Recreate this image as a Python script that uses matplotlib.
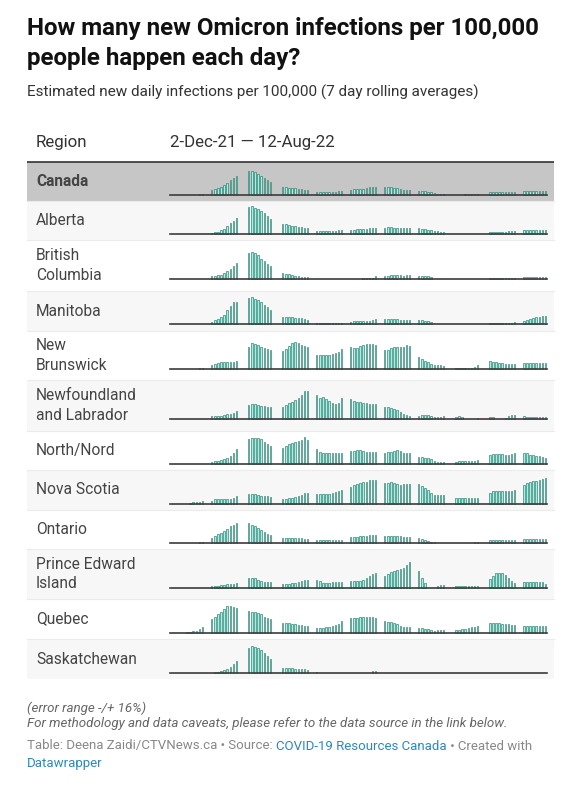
import matplotlib
matplotlib.use("Agg")
import matplotlib.pyplot as plt
import numpy as np
from matplotlib.patches import Rectangle

plt.rcParams['font.family'] = ['Roboto', 'DejaVu Sans']

# time slots at which each run of bars starts (gaps = missing data)
group_start = [2, 13, 25, 36, 47, 58, 69, 80, 91, 103, 114]
n_slots = 122

regions = ["Canada", "Alberta", "British\nColumbia", "Manitoba", "New\nBrunswick",
           "Newfoundland\nand Labrador", "North/Nord", "Nova Scotia", "Ontario",
           "Prince Edward\nIsland", "Quebec", "Saskatchewan"]

# estimated daily infections per 100,000 (relative bar heights)
canada = [[0, 0, 0, 0, 0, 0, 0, 3, 3], [16, 19, 22, 25, 30, 37, 44, 51, 58],
          [73, 73, 68, 63, 58, 51, 45, 38], [23, 23, 22, 21, 20, 18, 17, 15, 15],
          [10, 9, 9, 8, 8, 9, 10, 11, 12], [16, 17, 18, 19, 19, 21, 23, 23, 23],
          [23, 24, 23, 21, 20, 18, 16, 16, 16], [13, 12, 11, 10, 8, 6, 4, 4, 4],
          [0, 0, 0, 0, 3, 3, 3, 3, 3], [10, 10, 10, 10, 10, 10, 10, 10, 10],
          [13, 13, 13, 13, 13, 13, 13, 13]]
alberta = [[], [3, 5, 7, 11, 16, 23, 32, 40, 48], [81, 84, 79, 75, 69, 62, 53, 45],
           [30, 29, 27, 25, 23, 21, 20, 19, 18], [9, 9, 9, 9, 9, 10, 10, 11, 12],
           [12, 13, 14, 15, 15, 16, 17, 18, 18], [19, 20, 20, 19, 18, 18, 17, 18, 18],
           [17, 16, 14, 13, 11, 10, 8, 7, 6], [], [5, 5, 5, 5, 6, 7, 8, 9, 9],
           [12, 12, 12, 12, 12, 12, 12, 12]]
british_columbia = [[], [8, 9, 11, 13, 17, 23, 30, 38, 47], [77, 82, 77, 71, 61, 53, 46, 39],
                    [17, 15, 14, 12, 10, 8, 6, 5, 5], [], [0, 0, 0, 0, 4, 4, 4, 4, 8],
                    [8, 10, 12, 12, 12, 11, 10, 12, 12], [8, 8, 8, 8, 6], [],
                    [4, 4, 4, 4, 4, 4, 4, 4, 4], [5, 5, 5, 5, 5, 5, 5, 5]]
manitoba = [[], [7, 12, 17, 22, 29, 42, 54, 67, 67], [79, 82, 76, 72, 66, 59, 51, 43],
            [22, 22, 22, 21, 20, 20, 18, 16, 13], [5, 5, 5, 5, 5, 5, 5, 5, 5],
            [8, 10, 10, 10, 10, 10, 10, 13, 16], [16, 16, 16, 15, 15, 14, 14, 14, 14],
            [12, 12, 11, 10, 6], [], [5, 5, 5, 5, 5, 5, 5, 5, 8],
            [9, 13, 17, 20, 21, 23, 24, 25]]
new_brunswick = [[0, 0, 0, 0, 0, 0, 0, 3, 3], [11, 15, 18, 20, 20, 20, 20, 20, 25],
                 [65, 77, 74, 71, 67, 63, 59, 56], [53, 61, 70, 78, 80, 78, 72, 68, 67],
                 [42, 42, 42, 42, 43, 45, 48, 52, 59], [66, 63, 64, 69, 72, 74, 75, 76, 72],
                 [56, 56, 64, 67, 67, 67, 67, 71, 69], [35, 29, 25, 21, 16, 12, 11, 11, 8],
                 [0, 4, 4, 4, 4, 4, 4, 7, 11], [23, 21, 20, 19, 18, 16, 15, 15, 15],
                 [17, 17, 17, 17, 17, 17, 17, 17]]
newfoundland = [[], [8, 8, 9, 10, 11, 14, 15, 17, 23], [41, 44, 44, 42, 40, 39, 37, 37],
                [35, 42, 47, 52, 57, 64, 72, 83, 83], [72, 64, 65, 60, 54, 48, 45, 47, 62],
                [59, 53, 51, 50, 49, 48, 46, 46, 44], [35, 35, 34, 31, 27, 21, 16, 12, 9],
                [10, 11, 11, 11, 9, 6, 5, 5, 8], [0, 5, 8, 5, 0, 0, 0, 0, 3],
                [5, 5, 0, 0, 0, 3, 8, 11, 11], [8, 7, 5, 5, 5, 5, 5, 5]]
north = [[], [6, 8, 10, 12, 15, 18, 24, 32, 46], [76, 79, 79, 79, 75, 67, 60, 54],
         [48, 53, 60, 64, 66, 68, 71, 80, 71], [44, 37, 34, 32, 32, 32, 32, 32, 32],
         [38, 40, 43, 42, 40, 37, 35, 37, 35], [32, 35, 37, 39, 42, 38, 34, 32, 32],
         [20, 20, 18, 17, 14, 10, 6, 5, 7], [0, 6, 10, 10, 10, 10, 10, 10, 13],
         [28, 29, 29, 29, 29, 28, 26, 29, 32], [34, 32, 28, 27, 25, 25, 22, 18]]
nova_scotia = [[0, 0, 0, 0, 3, 4, 5, 6, 7], [8, 13, 15, 15, 15, 15, 15, 18, 22],
               [29, 30, 28, 27, 24, 22, 22, 19], [15, 15, 16, 18, 19, 22, 27, 31, 31],
               [30, 30, 30, 30, 30, 31, 34, 37, 40], [50, 55, 60, 62, 64, 66, 70, 72, 70],
               [63, 63, 66, 63, 59, 56, 59, 60, 60], [58, 53, 48, 42, 33, 25, 25, 25, 25],
               [0, 18, 18, 18, 18, 18, 18, 18, 18], [33, 37, 37, 37, 37, 37, 37, 37, 42],
               [55, 62, 65, 67, 68, 70, 75, 78]]
ontario = [[0, 0, 0, 0, 0, 0, 0, 4, 4], [16, 22, 26, 30, 36, 42, 50, 55, 60],
           [60, 55, 50, 45, 38, 32, 28, 25], [16, 16, 16, 16, 16, 15, 14, 13, 13],
           [10, 9, 10, 9, 8, 8, 9, 10, 10], [17, 19, 19, 20, 21, 22, 24, 24, 24],
           [22, 22, 22, 21, 21, 20, 18, 17, 17], [15, 12, 9, 6, 4, 3],
           [0, 0, 0, 0, 0, 0, 0, 4, 4], [10, 10, 10, 10, 10, 10, 10, 10, 10],
           [13, 13, 13, 13, 13, 13, 13, 13]]
pei = [[], [4, 5, 6, 7, 8, 10, 11, 11, 14], [28, 29, 28, 24, 21, 18, 17, 17],
       [11, 11, 12, 13, 14, 16, 19, 23, 23], [23, 19, 15, 15, 15, 16, 17, 17, 17],
       [20, 20, 20, 21, 24, 30, 35, 41, 44], [35, 41, 46, 50, 54, 57, 59, 68, 76],
       [50, 28, 13, 0, 0, 0, 4, 7, 7], [0, 4, 4, 4, 4, 4, 4, 4, 4],
       [26, 35, 43, 45, 44, 38, 30, 21, 15], [17, 17, 16, 16, 16, 16, 16, 11]]
quebec = [[0, 0, 0, 3, 3, 5, 6, 10, 18], [40, 48, 56, 63, 71, 79, 79, 76, 73],
          [65, 63, 61, 59, 55, 48, 43, 40], [28, 28, 28, 27, 26, 24, 22, 21, 20],
          [15, 15, 15, 16, 17, 19, 22, 27, 35], [43, 43, 45, 46, 46, 46, 46, 46, 43],
          [34, 33, 31, 28, 25, 21, 18, 16, 16], [13, 13, 11, 10, 8, 6, 8, 8, 8],
          [0, 7, 9, 11, 12, 14, 16, 18, 20], [29, 29, 28, 28, 27, 26, 25, 23, 23],
          [21, 21, 21, 21, 21, 21, 21, 21]]
saskatchewan = [[], [0, 3, 3, 4, 7, 11, 17, 27, 34], [73, 81, 78, 73, 68, 60, 51, 40],
                [13, 13, 13, 13, 12, 11, 11, 10, 8], [3], [0, 0, 0, 0, 0, 0, 0, 4, 4],
                [], [], [], [], []]

series = [canada, alberta, british_columbia, manitoba, new_brunswick, newfoundland,
          north, nova_scotia, ontario, pei, quebec, saskatchewan]

# row boundaries in pixels (top, bottom)
row_edges = [(162, 201), (201, 240), (240, 291), (291, 331), (331, 380), (380, 431),
             (431, 470), (470, 510), (510, 549), (549, 599), (599, 639), (639, 679)]

W, H = 575, 791
fig = plt.figure(figsize=(W / 100, H / 100), dpi=100)
bg = fig.add_axes([0, 0, 1, 1])
bg.set_xlim(0, W)
bg.set_ylim(H, 0)
bg.axis('off')

# titles
bg.text(27, 29, "How many new Omicron infections per 100,000", fontsize=17.4,
        fontweight='bold', color='#111111', va='center')
bg.text(27, 58, "people happen each day?", fontsize=17.4, fontweight='bold',
        color='#111111', va='center')
bg.text(27, 92, "Estimated new daily infections per 100,000 (7 day rolling averages)",
        fontsize=11.0, color='#333333', va='center')

# header
bg.text(36, 142, "Region", fontsize=12.2, color='#333333', va='center')
bg.text(170, 142, "2-Dec-21 \u2014 12-Aug-22", fontsize=12.2, color='#333333', va='center')
bg.plot([27, 554], [161.5, 161.5], color='#333333', lw=1.2, solid_capstyle='butt')

for i, (name, (top, bot), vals) in enumerate(zip(regions, row_edges, series)):
    if i == 0:
        face = '#c6c6c6'
    elif i % 2 == 1:
        face = '#f7f7f7'
    else:
        face = '#ffffff'
    bg.add_patch(Rectangle((27, top), 527, bot - top, facecolor=face, edgecolor='none', zorder=0))
    if i > 0:
        bg.plot([27, 554], [top, top], color='#ebebeb', lw=0.8, zorder=1)
    centre = (top + bot) / 2
    lines = name.split("\n")
    for j, line in enumerate(lines):
        y = centre + (j - (len(lines) - 1) / 2) * 19.3
        bg.text(36, y, line, fontsize=11.2, color='#444444', va='center',
                fontweight='bold' if i == 0 else 'normal')

    # mini column chart
    base = centre + 13.5
    ax = fig.add_axes([170 / W, 1 - base / H, 377 / W, 28 / H])
    ax.set_facecolor('none')
    xs, hs = [], []
    for g, gv in enumerate(vals):
        for k, v in enumerate(gv):
            if v > 0:
                xs.append(group_start[g] + k)
                hs.append(v)
    ax.bar(xs, hs, width=0.45, color='#a6efe4', edgecolor='#237c69', linewidth=0.45,
           clip_on=False)
    ax.axhline(0, color='#3b3b3b', lw=1.2, clip_on=False)
    ax.set_xlim(-0.5, n_slots - 0.5)
    ax.set_ylim(0, 84)
    ax.axis('off')

# footer notes
bg.text(27, 708, "(error range -/+ 16%)", fontsize=9.6, style='italic', color='#666666', va='center')
bg.text(27, 724, "For methodology and data caveats, please refer to the data source in the link below.",
        fontsize=9.6, style='italic', color='#666666', va='center')

renderer = fig.canvas.get_renderer()
pieces = [("Table: Deena Zaidi/CTVNews.ca \u2022 Source: ", '#888888'),
          ("COVID-19 Resources Canada", '#2b88c2'),
          (" \u2022 Created with", '#888888')]
x = 27
inv = bg.transData.inverted()
for txt, col in pieces:
    t = bg.text(x, 746, txt, fontsize=9.5, color=col, va='center')
    bb = t.get_window_extent(renderer=renderer)
    x = inv.transform((bb.x1, bb.y0))[0]
bg.text(27, 763, "Datawrapper", fontsize=9.5, color='#2b88c2', va='center')

fig.savefig("out.png", dpi=100, facecolor='white')
